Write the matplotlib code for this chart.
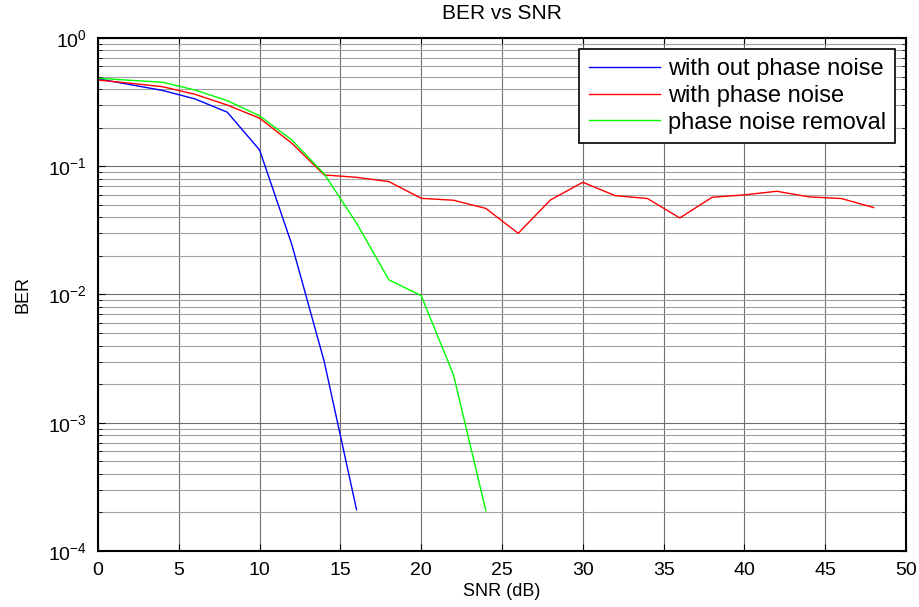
"""
BER vs SNR: three curves on a semilogy plot (MATLAB-style look).
"""

import numpy as np
import matplotlib
matplotlib.use("Agg")
import matplotlib.pyplot as plt
from matplotlib.ticker import LogLocator, NullFormatter

plt.rcParams["font.family"] = ["Liberation Sans", "DejaVu Sans"]

# SNR points (dB)
snr_no_pn = [0, 2, 4, 6, 8, 10, 12, 14, 16]
ber_no_pn = [0.48, 0.433, 0.39, 0.335, 0.264, 0.134, 0.0244, 0.0030, 0.00021]

snr_pn = list(range(0, 50, 2))
ber_pn = [0.47, 0.444, 0.417, 0.364, 0.30, 0.237, 0.151, 0.0855, 0.082, 0.0759,
          0.0562, 0.0543, 0.0469, 0.030, 0.0546, 0.075, 0.059, 0.056, 0.0395,
          0.0573, 0.0598, 0.0638, 0.0577, 0.056, 0.0476]

snr_removal = [0, 2, 4, 6, 8, 10, 12, 14, 16, 18, 20, 22, 24]
ber_removal = [0.485, 0.468, 0.452, 0.393, 0.325, 0.247, 0.160, 0.087, 0.036,
               0.013, 0.0098, 0.00236, 0.000206]

labels = ["with out phase noise", "with phase noise", "phase noise removal"]

fig = plt.figure(figsize=(9.19, 6.07), dpi=100)
ax = fig.add_axes([0.1066, 0.0923, 0.8793, 0.8451])

ax.semilogy(snr_no_pn, ber_no_pn, color="#0000ff", linewidth=1.0, label=labels[0])
ax.semilogy(snr_pn, ber_pn, color="#ff0000", linewidth=1.0, label=labels[1])
ax.semilogy(snr_removal, ber_removal, color="#00ff00", linewidth=1.0, label=labels[2])

ax.set_xlim(0, 50)
ax.set_ylim(1e-4, 1)
ax.set_xticks(np.arange(0, 51, 5))
ax.yaxis.set_major_locator(LogLocator(base=10, numticks=10))
ax.yaxis.set_minor_locator(LogLocator(base=10, subs=np.arange(2, 10), numticks=50))
ax.yaxis.set_minor_formatter(NullFormatter())

# grid: major and minor, greyish like rasterized MATLAB dotted grid
ax.grid(True, which="major", color="#6e6e6e", linewidth=0.8)
ax.grid(True, which="minor", axis="y", color="#a0a0a0", linewidth=0.8)
ax.set_axisbelow(True)

ax.tick_params(which="both", direction="in", top=True, right=True, labelsize=14)
ax.tick_params(which="major", length=5)
ax.tick_params(which="minor", length=3)
ax.tick_params(axis="x", pad=8)
ax.tick_params(axis="y", pad=8)
for s in ax.spines.values():
    s.set_linewidth(1.5)

ax.set_title("BER vs SNR", fontsize=15, pad=14)
ax.set_xlabel("SNR (dB)", fontsize=13, labelpad=3)
ax.set_ylabel("BER", fontsize=13, labelpad=12)

leg = ax.legend(loc="upper right", fontsize=17, handlelength=3.0,
                handletextpad=0.35, fancybox=False, framealpha=1,
                edgecolor="black", borderaxespad=0.45, labelspacing=0.2,
                borderpad=0.4)
leg.get_frame().set_linewidth(1.2)

fig.savefig("out.png", dpi=100)
